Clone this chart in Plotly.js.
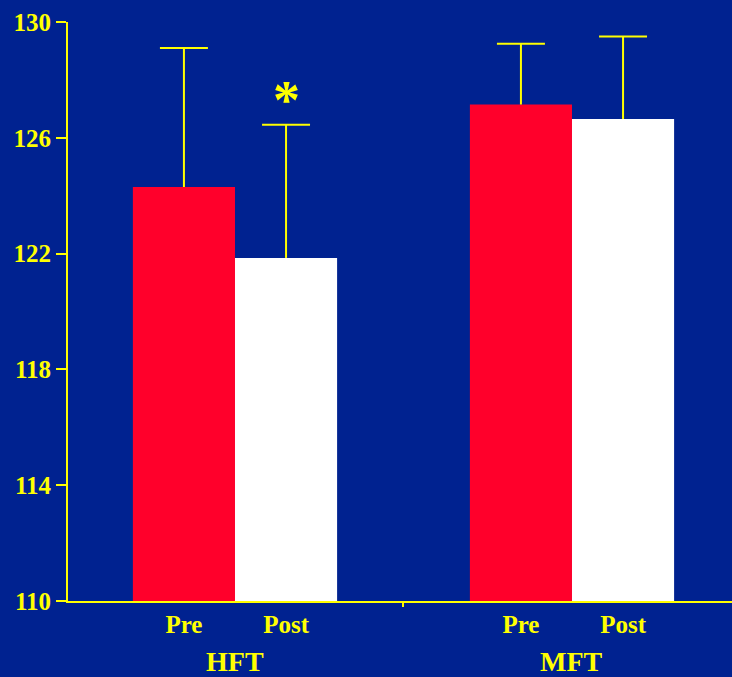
<!DOCTYPE html>
<html><head><meta charset="utf-8">
<script src="https://cdn.plot.ly/plotly-3.0.1.min.js"></script>
<style>html,body{margin:0;padding:0;background:#002290;overflow:hidden;}</style>
</head><body><div id="chart" style="width:732px;height:677px;"></div>
<script>
// ---- data ----
const groups = ['HFT', 'MFT'];
const conditions = ['Pre', 'Post'];
const preMeans = [124.3, 127.15];
const postMeans = [121.85, 126.65];
const preErr = [4.8, 2.1];
const postErr = [4.6, 2.85];
const yTicks = [110, 114, 118, 122, 126, 130];
const sigMark = ['*', ''];   // significance marker above Post bar

// ---- style ----
const BG = '#002290', RED = '#ff002b', WHITE = '#ffffff', YEL = '#ffff00';
const FONT = 'Liberation Serif, Times New Roman, serif';
const bw = 0.303;          // bar width (x units)
const capHalf = 0.0712;    // error cap half-width (x units)

const gx = groups.map((g, i) => i);
const series = [
  {name: conditions[0], means: preMeans, errs: preErr, color: RED, offset: -bw},
  {name: conditions[1], means: postMeans, errs: postErr, color: WHITE, offset: 0}
];

const traces = [];
series.forEach(s => {
  traces.push({
    type: 'bar', x: gx, y: s.means, name: s.name,
    width: gx.map(() => bw), offset: gx.map(() => s.offset),
    marker: {color: s.color, line: {width: 0}},
    hoverinfo: 'skip', showlegend: false
  });
});
// error bars (upper only) built from data
series.forEach(s => {
  const ex = [], ey = [];
  gx.forEach((g, i) => {
    const xc = g + s.offset + bw / 2;
    const top = s.means[i] + s.errs[i];
    ex.push(xc, xc, null, xc - capHalf, xc + capHalf, null);
    ey.push(s.means[i], top, null, top, top, null);
  });
  traces.push({type: 'scatter', mode: 'lines', x: ex, y: ey,
    line: {color: YEL, width: 2}, hoverinfo: 'skip', showlegend: false});
});

const tickvals = [], ticktext = [];
gx.forEach(g => series.forEach(s => { tickvals.push(g + s.offset + bw / 2); ticktext.push(s.name); }));

const annotations = groups.map((g, i) => ({
  x: gx[i], xref: 'x', y: -0.104, yref: 'paper', text: g, showarrow: false,
  yanchor: 'middle', font: {family: FONT, size: 28, color: YEL, weight: 'bold'}
}));
sigMark.forEach((m, i) => {
  if (!m) return;
  annotations.push({
    x: gx[i] + series[1].offset + bw / 2, xref: 'x',
    y: postMeans[i] + postErr[i], yref: 'y', text: m, showarrow: false,
    yanchor: 'bottom', yshift: -7,
    font: {family: FONT, size: 54, color: YEL, weight: 'bold'}
  });
});

const layout = {
  width: 732, height: 677,
  paper_bgcolor: BG, plot_bgcolor: BG,
  margin: {l: 68, r: 0, t: 22, b: 76, pad: 0},
  barmode: 'overlay',
  xaxis: {
    range: [-0.4955, 1.4748], showgrid: false, zeroline: false,
    showline: true, linecolor: YEL, linewidth: 2,
    tickmode: 'array', tickvals: tickvals, ticktext: ticktext, ticks: '',
    tickfont: {family: FONT, size: 25, color: YEL, weight: 'bold'},
    minor: {tickmode: 'array', tickvals: [(gx[0] + gx[1]) / 2], ticks: 'outside', ticklen: 4, tickwidth: 2, tickcolor: YEL}
  },
  yaxis: {
    range: [110, 130], showgrid: false, zeroline: false,
    showline: true, linecolor: YEL, linewidth: 2,
    tickmode: 'array', tickvals: yTicks, ticks: 'outside', ticklen: 10, tickwidth: 2, tickcolor: YEL,
    tickfont: {family: FONT, size: 25, color: YEL, weight: 'bold'}
  },
  annotations: annotations,
  showlegend: false
};

Plotly.newPlot('chart', traces, layout, {displayModeBar: false, staticPlot: true});
</script></body></html>
